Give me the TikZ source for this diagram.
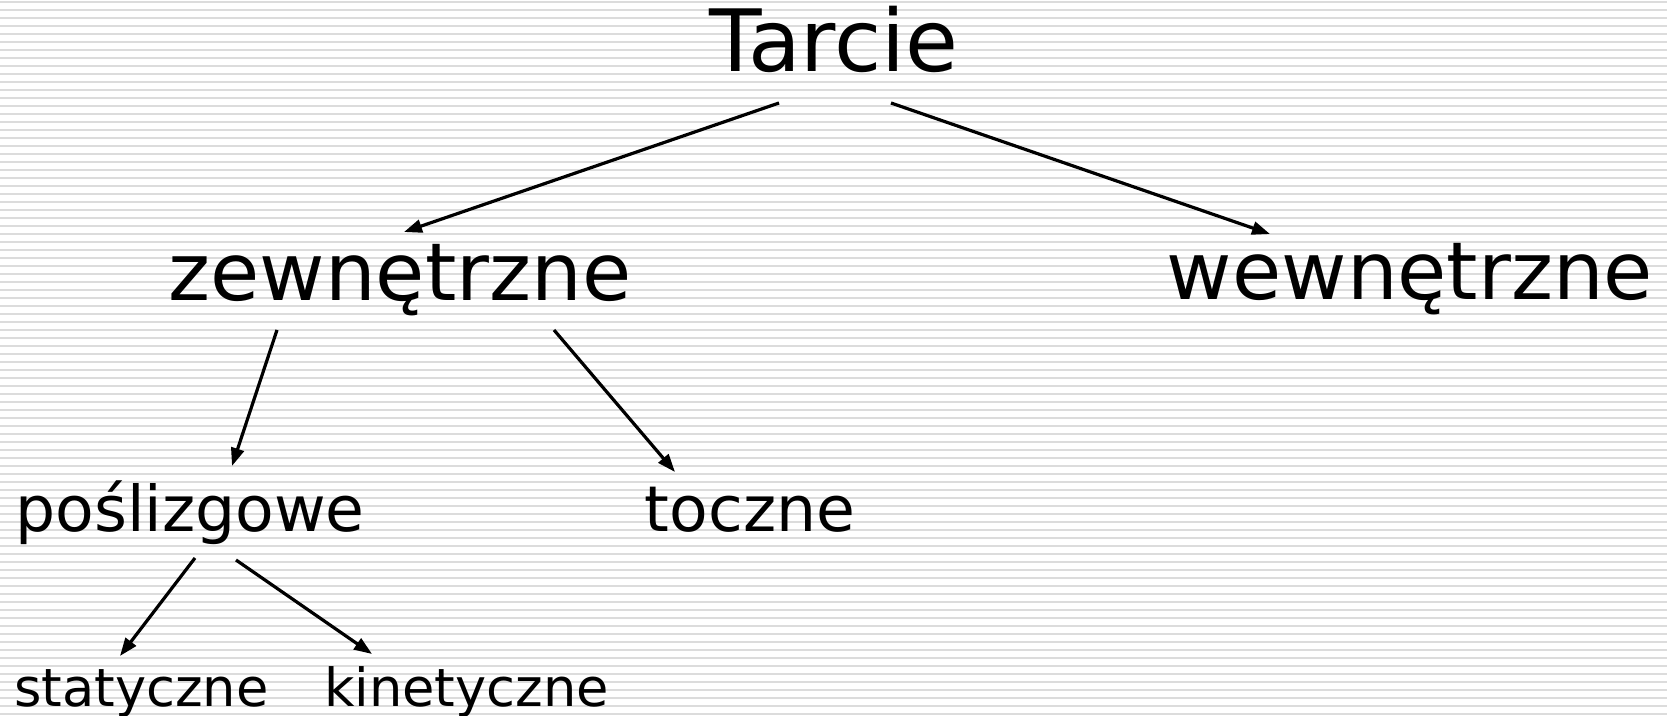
\documentclass[tikz,border=0pt]{standalone}
\usepackage{fontspec}
\setmainfont{DejaVu Sans}
\usetikzlibrary{arrows.meta}
\definecolor{stripe}{HTML}{DCDCDC}
\begin{document}
\begin{tikzpicture}[x=0.5pt,y=-0.5pt,
  every node/.style={inner sep=0pt,anchor=base},
  top/.style={font=\fontsize{43}{52}\selectfont},
  big/.style={font=\fontsize{40}{48}\selectfont},
  mid/.style={font=\fontsize{31.6}{38}\selectfont},
  small/.style={font=\fontsize{26.3}{32}\selectfont},
  arr/.style={line width=1.6pt,-{Triangle[length=9pt,width=6.5pt]}}]

  \useasboundingbox (0,0) rectangle (1667,716);
  \foreach \k in {0,...,89}
    \draw[stripe,line width=1pt] (0,2+8*\k) -- (1667,2+8*\k);

  \node[top] (tarcie) at (834,72) {Tarcie};

  \node[big] (zew) at (400,301) {zewnętrzne};

  \node[big] (wew) at (1410,300) {wewnętrzne};

  \node[mid] (posl) at (190,532) {poślizgowe};

  \node[mid] (tocz) at (750,532) {toczne};

  \node[small] (stat) at (141.5,706) {statyczne};

  \node[small] (kin) at (466.5,706) {kinetyczne};

  \draw[arr] ([shift={(-55,31)}]tarcie.base) -- ([shift={(4,-69)}]zew.base);
  \draw[arr] ([shift={(57,31)}]tarcie.base) -- ([shift={(-140,-66)}]wew.base);
  \draw[arr] ([shift={(-123,29)}]zew.base) -- ([shift={(42,-66)}]posl.base);
  \draw[arr] ([shift={(154,29)}]zew.base) -- ([shift={(-75,-60)}]tocz.base);
  \draw[arr] ([shift={(5,26)}]posl.base) -- ([shift={(-21.5,-50)}]stat.base);
  \draw[arr] ([shift={(46,28)}]posl.base) -- ([shift={(-94.5,-52)}]kin.base);
\end{tikzpicture}
\end{document}
